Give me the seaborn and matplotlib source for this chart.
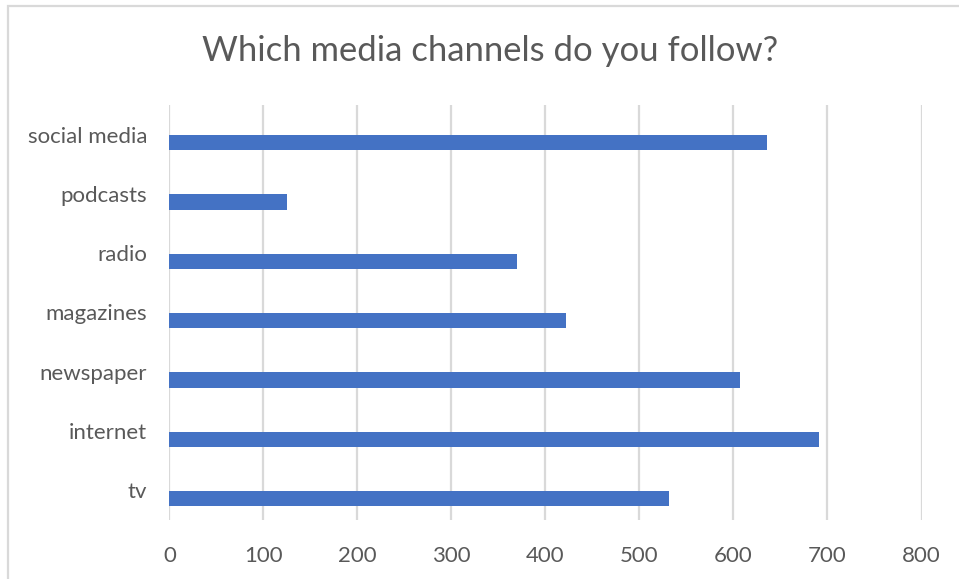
import matplotlib
matplotlib.use("Agg")
import matplotlib.pyplot as plt
import seaborn as sns
import pandas as pd
from matplotlib.patches import Rectangle

# Survey answers: how many respondents follow each media channel
channels = ["social media", "podcasts", "radio", "magazines", "newspaper", "internet", "tv"]
followers = [636, 125, 370, 422, 607, 691, 531]
x_ticks = [0, 100, 200, 300, 400, 500, 600, 700, 800]

title = "Which media channels do you follow?"

BAR_COLOR = "#4472C4"
TEXT_COLOR = "#595959"
GRID_COLOR = "#D9D9D9"

sns.set_theme(style="white")
plt.rcParams["font.family"] = ["Lato", "DejaVu Sans"]

df = pd.DataFrame({"channel": channels, "followers": followers})

fig = plt.figure(figsize=(9.59, 5.79), dpi=100)
ax = fig.add_axes([0.1767, 0.1019, 0.7842, 0.7168])

sns.barplot(data=df, x="followers", y="channel", order=channels,
            color=BAR_COLOR, saturation=1, width=0.258, orient="h",
            linewidth=0, ax=ax)

# bars sit slightly below the category label, as in a two-series layout
for bar in ax.patches:
    bar.set_y(bar.get_y() + 0.138)

ax.set_xlim(0, 800)
ax.set_ylim(len(channels) - 0.5, -0.5)
ax.set_xticks(x_ticks)
ax.set_xticklabels([str(t) for t in x_ticks])
ax.set_xlabel("")
ax.set_ylabel("")

ax.grid(axis="x", color=GRID_COLOR, linewidth=1.6)
ax.grid(axis="y", visible=False)
ax.set_axisbelow(True)
for s in ax.spines.values():
    s.set_visible(False)

ax.tick_params(axis="x", length=0, pad=19, labelsize=16, labelcolor=TEXT_COLOR)
ax.tick_params(axis="y", length=0, pad=16, labelsize=16, labelcolor=TEXT_COLOR)

fig.text(0.511, 0.912, title, ha="center", va="center",
         fontsize=24.9, color=TEXT_COLOR)

# chart frame
fig.patches.append(Rectangle((8 / 959, -0.05), 1.1, 1 - 6 / 579 + 0.05,
                             transform=fig.transFigure, fill=False,
                             edgecolor=GRID_COLOR, linewidth=1.6))

fig.savefig("out.png", dpi=100, facecolor="white")
